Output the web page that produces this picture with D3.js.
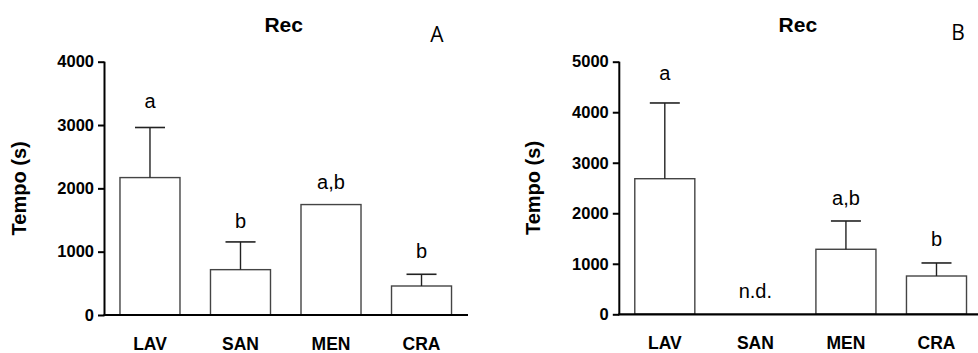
<!DOCTYPE html>
<html>
<head>
<meta charset="utf-8">
<script src="https://cdn.jsdelivr.net/npm/d3@7"></script>
<style>
  body { margin: 0; background: #fff; }
  svg { display: block; }
</style>
</head>
<body>
<div id="chart"></div>
<script>
// data
var categories = ["LAV", "SAN", "MEN", "CRA"];

var meanA = [2170, 716, 1744, 458];
var errA = [2961, 1154, null, 643];
var lettersA = ["a", "b", "a,b", "b"];
var ticksA = [0, 1000, 2000, 3000, 4000];

var meanB = [2684, null, 1287, 758];
var errB = [4183, null, 1847, 1016];
var lettersB = ["a", "n.d.", "a,b", "b"];
var ticksB = [0, 1000, 2000, 3000, 4000, 5000];

var svgWidth = 978;
var svgHeight = 353;
var font = "Liberation Sans, Arial, sans-serif";

var svg = d3.select("#chart")
  .append("svg")
  .attr("width", svgWidth)
  .attr("height", svgHeight);

function drawPanel(p) {
  var g = svg.append("g");

  var x = d3.scaleBand()
    .domain(categories)
    .range([p.left, p.right])
    .paddingInner(0.337)
    .paddingOuter(0.171);

  var y = d3.scaleLinear()
    .domain([0, p.max])
    .range([p.bottom, p.top]);

  // bars
  categories.forEach(function(c, i) {
    var v = p.mean[i];
    if (v != null) {
      g.append("rect")
        .attr("x", x(c))
        .attr("y", y(v))
        .attr("width", x.bandwidth())
        .attr("height", y(0) - y(v))
        .attr("fill", "#fff")
        .attr("stroke", "#444")
        .attr("stroke-width", 1.4);
    }
    var e = p.err[i];
    var cx = x(c) + x.bandwidth() / 2;
    if (e != null) {
      g.append("line")
        .attr("x1", cx).attr("x2", cx)
        .attr("y1", y(v)).attr("y2", y(e))
        .attr("stroke", "#222").attr("stroke-width", 1.4);
      g.append("line")
        .attr("x1", cx - 15).attr("x2", cx + 15)
        .attr("y1", y(e)).attr("y2", y(e))
        .attr("stroke", "#222").attr("stroke-width", 1.6);
    }
    // significance letters
    var top = e != null ? e : (v != null ? v : 0);
    g.append("text")
      .attr("x", cx)
      .attr("y", y(top) - p.letterGap[i])
      .attr("text-anchor", "middle")
      .style("font-family", font)
      .style("font-size", "20px")
      .text(p.letters[i]);
  });

  // y axis
  var yAxis = d3.axisLeft(y).tickValues(p.ticks).tickFormat(d3.format("d")).tickSize(6.5).tickPadding(4);
  var ya = g.append("g")
    .attr("transform", "translate(" + p.left + ",0)")
    .call(yAxis);
  ya.select(".domain").attr("stroke", "#000").attr("stroke-width", 2).attr("d", "M0," + y(0) + "V" + y(p.max));
  ya.selectAll(".tick line").attr("stroke", "#000").attr("stroke-width", 2);
  ya.selectAll(".tick text")
    .style("font-family", font).style("font-weight", "bold").style("font-size", "16.5px").attr("fill", "#000");

  // x axis
  var xAxis = d3.axisBottom(x).tickSize(0).tickPadding(0);
  var xa = g.append("g")
    .attr("transform", "translate(0," + p.bottom + ")")
    .call(xAxis);
  xa.select(".domain").attr("stroke", "#000").attr("stroke-width", 2.2)
    .attr("d", "M" + (p.left - 1) + ",0H" + p.axisEnd);
  xa.selectAll(".tick text")
    .attr("dy", null).attr("y", 35)
    .style("font-family", font).style("font-weight", "bold").style("font-size", "17.5px").attr("fill", "#000");

  // axis label
  g.append("text")
    .attr("transform", "translate(" + p.labelX + "," + ((p.top + p.bottom) / 2) + ") rotate(-90)")
    .attr("text-anchor", "middle")
    .style("font-family", font)
    .style("font-weight", "bold")
    .style("font-size", "20px")
    .text("Tempo (s)");

  // title
  g.append("text")
    .attr("x", p.titleX)
    .attr("y", 32.3)
    .attr("text-anchor", "middle")
    .style("font-family", font)
    .style("font-weight", "bold")
    .style("font-size", "21px")
    .text("Rec");

  // panel letter
  g.append("text")
    .attr("x", p.tagX)
    .attr("y", p.tagY)
    .attr("text-anchor", "middle")
    .style("font-family", "Open Sans, sans-serif")
    .style("font-size", "21px")
    .text(p.tag);
}

drawPanel({
  mean: meanA, err: errA, letters: lettersA, ticks: ticksA, max: 4000,
  left: 104.5, right: 467, top: 61.7, bottom: 315, axisEnd: 468,
  letterGap: [19.4, 13.7, 15.4, 16],
  labelX: 26, titleX: 283.7, tagX: 437, tagY: 42.3, tag: "A"
});

drawPanel({
  mean: meanB, err: errB, letters: lettersB, ticks: ticksB, max: 5000,
  left: 619.3, right: 982, top: 61.7, bottom: 314.3, axisEnd: 978,
  letterGap: [23, 16.6, 16, 17.3],
  labelX: 540, titleX: 797.8, tagX: 958, tagY: 40, tag: "B"
});
</script>
</body>
</html>
